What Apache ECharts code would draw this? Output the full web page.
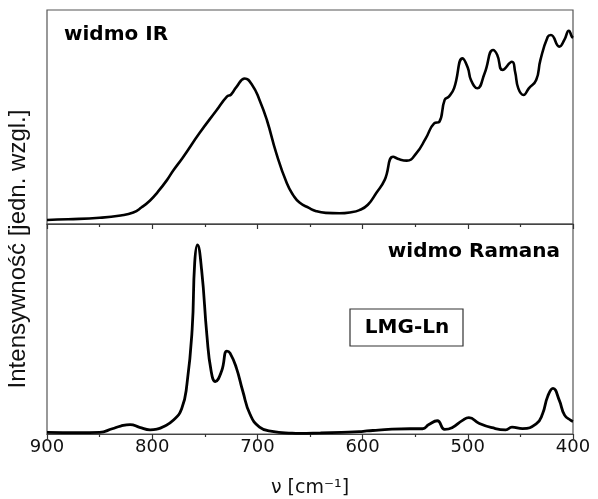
<!DOCTYPE html>
<html>
<head>
<meta charset="utf-8">
<script src="https://cdn.jsdelivr.net/npm/echarts@6/dist/echarts.min.js"></script>
<style>
html,body{margin:0;padding:0;background:#fff;}
#chart{width:598px;height:499px;}
</style>
</head>
<body>
<div id="chart"></div>
<script>
// IR spectrum: [wavenumber cm-1, relative intensity]
const irWave = [900, 880, 850, 830, 818, 810, 802, 795, 786, 780, 771, 755, 739, 729, 725, 720, 712, 705, 698, 691, 682, 672, 666, 660, 651, 644, 635, 622, 612, 603, 595, 587, 579, 571, 565, 558, 549, 540, 532, 527, 522, 518, 513, 505, 500, 497, 491, 484, 476, 472, 467, 458, 455, 452, 447, 442, 435, 431, 424, 421, 413, 408, 404, 401, 400];
const irVal  = [1.9, 2.2, 2.9, 4.0, 5.4, 7.8, 11, 14.8, 20.5, 25, 31, 42.5, 53, 59.5, 60.5, 64, 68, 65, 58, 48.6, 33, 19, 13.5, 10, 7.5, 6, 5.2, 5, 5.4, 6.5, 9, 14.5, 20.6, 31.4, 30.2, 29.6, 33, 40, 47, 47.8, 58, 59.5, 63.5, 77.4, 73, 67.3, 63.4, 70.5, 81.3, 79, 72, 75.8, 71, 63.4, 60.3, 63.4, 67.3, 76.6, 87.5, 88.3, 82.9, 86.3, 90.3, 87.5, 87];

// Raman spectrum
const ramanWave = [900, 870, 850, 838, 830, 821, 812, 802, 795, 790, 780, 772, 767, 762, 759.6, 757, 753, 748, 744, 740, 734, 729, 726, 720, 714, 707, 698, 686, 667, 660, 640, 620, 603, 596, 585, 572, 555, 543, 537, 529, 522, 515, 505, 499, 489, 477, 464, 458, 448, 435, 429, 424, 419, 413, 408, 402, 400];
const ramanVal  = [0.8, 0.7, 0.8, 2.5, 3.8, 4.5, 3.2, 2.0, 2.4, 3.3, 6.5, 12, 23.6, 50, 81.6, 90, 78, 47, 30, 25, 30, 39.5, 38.5, 31.5, 20.6, 9.4, 3.3, 1.2, 0.4, 0.3, 0.5, 0.8, 1.1, 1.5, 1.8, 2.3, 2.5, 2.5, 4.5, 6.3, 2.2, 3.0, 6.5, 7.8, 5.0, 3.0, 2.0, 3.3, 2.6, 4.8, 9.5, 18, 21.7, 16, 9, 6.5, 6];

const xTicks = [900, 800, 700, 600, 500, 400];
const labels = {
  ir: 'widmo IR',
  raman: 'widmo Ramana',
  sample: 'LMG-Ln',
  yName: 'Intensywność [jedn. wzgl.]',
  xName: 'ν [cm⁻¹]'
};

const irData = irWave.map((w, i) => [w, irVal[i]]);
const ramanData = ramanWave.map((w, i) => [w, ramanVal[i]]);

const chart = echarts.init(document.getElementById('chart'), null, {renderer: 'canvas'});

function xAxisCfg(gridIndex, showLabels) {
  return {
    type: 'value', gridIndex: gridIndex, inverse: true,
    min: 400, max: 900, interval: 100,
    axisLine: {show: true, onZero: false, lineStyle: {color: '#444', width: 1.2}},
    axisTick: {show: true, inside: false, length: 5, lineStyle: {color: '#333', width: 1.2}},
    minorTick: {show: true, splitNumber: 2, length: 3, lineStyle: {color: '#333', width: 1.2}},
    splitLine: {show: false},
    axisLabel: {
      show: showLabels, margin: 4, color: '#111',
      fontFamily: 'DejaVu Sans', fontSize: 18,
      formatter: v => xTicks.indexOf(v) >= 0 ? String(v) : ''
    },
    name: showLabels ? labels.xName : '',
    nameLocation: 'middle', nameGap: 45,
    nameTextStyle: {fontFamily: 'DejaVu Sans', fontSize: 19, color: '#111'}
  };
}
function yAxisCfg(gridIndex) {
  return {
    type: 'value', gridIndex: gridIndex, min: 0, max: 100,
    axisLine: {show: false}, axisTick: {show: false},
    axisLabel: {show: false}, splitLine: {show: false}
  };
}

chart.setOption({
  animation: false,
  backgroundColor: '#fff',
  grid: [
    {left: 47, top: 10, width: 526, height: 214, show: true, borderColor: '#555', borderWidth: 1.2, backgroundColor: 'transparent'},
    {left: 47, top: 224, width: 526, height: 213, show: true, borderColor: '#555', borderWidth: 1.2, backgroundColor: 'transparent'}
  ],
  xAxis: [xAxisCfg(0, false), xAxisCfg(1, true)],
  yAxis: [yAxisCfg(0), yAxisCfg(1)],
  series: [
    {type: 'line', xAxisIndex: 0, yAxisIndex: 0, data: irData, smooth: 0.5,
     showSymbol: false, lineStyle: {color: '#000', width: 2.6}},
    {type: 'line', xAxisIndex: 1, yAxisIndex: 1, data: ramanData, smooth: 0.5,
     showSymbol: false, lineStyle: {color: '#000', width: 2.8}}
  ],
  graphic: [
    {type: 'text', x: 64, y: 35, style: {text: labels.ir, font: 'bold 20px "DejaVu Sans"', fill: '#000', verticalAlign: 'middle', align: 'left'}},
    {type: 'text', x: 560, y: 252, style: {text: labels.raman, font: 'bold 20px "DejaVu Sans"', fill: '#000', verticalAlign: 'middle', align: 'right'}},
    {type: 'rect', shape: {x: 350, y: 309, width: 113, height: 37}, style: {fill: 'transparent', stroke: '#333', lineWidth: 1.2}},
    {type: 'text', x: 407, y: 328, style: {text: labels.sample, font: 'bold 20px "DejaVu Sans"', fill: '#000', verticalAlign: 'middle', align: 'center'}},
    {type: 'text', x: 18, y: 249, rotation: Math.PI / 2, style: {text: labels.yName, font: '24px "Liberation Sans"', fill: '#111', verticalAlign: 'middle', align: 'center'}}
  ]
});
</script>
</body>
</html>
